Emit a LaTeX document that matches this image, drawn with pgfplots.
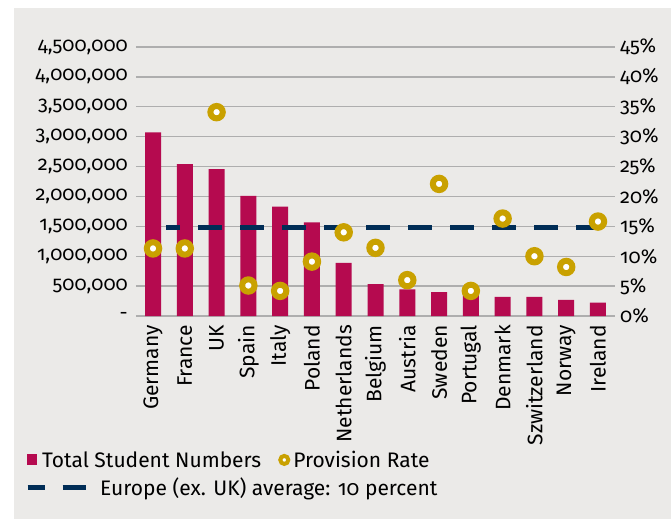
\documentclass[border=0pt]{standalone}
\usepackage{fontspec}
\setmainfont{Fira Sans}[Numbers=OldStyle]
\usepackage{pgfplots}
\pgfplotsset{compat=1.18}
\definecolor{barcol}{HTML}{B50A4F}
\definecolor{gold}{HTML}{C9A100}
\definecolor{navy}{HTML}{002D56}
\definecolor{bg}{HTML}{EBEAE8}
\definecolor{gridc}{HTML}{AEAEAE}
\newcommand\tf{\fontsize{20bp}{24bp}\selectfont}
\newcommand\lf{\fontsize{21bp}{25bp}\selectfont}
\begin{document}
\begin{tikzpicture}
\path[use as bounding box, fill=white] (-136bp,-203bp) rectangle (535bp,316bp);
\fill[bg] (-122bp,-203bp) rectangle (535bp,308bp);
\begin{axis}[
  scale only axis, width=479bp, height=269bp,
  xmin=-0.535, xmax=14.535, ymin=0, ymax=4500000,
  axis line style={draw=none}, tick style={draw=none},
  xtick={0,...,14},
  xticklabels={Germany,France,UK,Spain,Italy,Poland,Netherlands,Belgium,Austria,Sweden,Portugal,Denmark,Szwitzerland,Norway,Ireland},
  xticklabel style={rotate=90, anchor=east, inner sep=0pt, font=\lf},
  xticklabel shift=9bp,
  ytick={0,500000,1000000,1500000,2000000,2500000,3000000,3500000,4000000,4500000},
  yticklabels={{-},{500,000},{1,000,000},{1,500,000},{2,000,000},{2,500,000},{3,000,000},{3,500,000},{4,000,000},{4,500,000}},
  scaled y ticks=false,
  yticklabel style={inner sep=0pt, font=\tf},
  yticklabel shift=8bp,
  ymajorgrids, grid style={gridc, line width=1.3bp},
  legend columns=2,
  legend style={at={(-0.2276,-0.535)}, anchor=west, draw=none, fill=none, inner sep=0pt,
    font=\lf, nodes={inner xsep=2bp, inner ysep=1bp},
    /tikz/every odd column/.append style={column sep=3bp},
    /tikz/every even column/.append style={column sep=17bp}},
  legend cell align=left,
]
\addplot[ybar, bar width=16bp, fill=barcol, draw=none,
  legend image code/.code={\fill[barcol] (0bp,-5.5bp) rectangle (10bp,5.5bp);}]
  coordinates {(0,3070000) (1,2540000) (2,2455000) (3,2010000) (4,1830000) (5,1565000) (6,890000) (7,535000) (8,447000) (9,400000) (10,351000) (11,318000) (12,318000) (13,268000) (14,223000)};
\addlegendentry{Total Student Numbers}
\addlegendimage{only marks, mark=*, mark size=4bp, mark options={fill=white, draw=gold, line width=4bp}}
\addlegendentry{Provision Rate}
\end{axis}
\begin{axis}[
  scale only axis, width=479bp, height=269bp,
  xmin=-0.535, xmax=14.535, ymin=0, ymax=45,
  axis y line*=right, axis x line=none,
  y axis line style={draw=none}, ytick style={draw=none},
  ytick={0,5,...,45},
  yticklabels={0\%,5\%,10\%,15\%,20\%,25\%,30\%,35\%,40\%,45\%},
  yticklabel style={inner sep=0pt, font=\tf},
  yticklabel shift=5bp,
  legend style={at={(-0.2317,-0.636)}, anchor=west, draw=none, fill=none, inner sep=0pt,
    font=\lf, nodes={inner xsep=2bp, inner ysep=1bp},
    /tikz/every odd column/.append style={column sep=10bp}},
  legend cell align=left,
]
\addplot[navy, line width=5bp, dash pattern=on 24bp off 18bp, dash phase=10bp,
  legend image code/.code={\draw[navy, solid, line width=5bp] (0bp,0bp) -- (17bp,0bp); \draw[navy, solid, line width=5bp] (35bp,0bp) -- (58bp,0bp);}]
  coordinates {(0.41,14.8) (14,14.8)};
\addlegendentry{Europe (ex. UK) average: 10 percent}
\addplot[only marks, mark=*, mark size=6.2bp, mark options={fill=white, draw=gold, line width=6bp}, forget plot]
  coordinates {(0,11.3) (1,11.3) (2,34.1) (3,5.1) (4,4.2) (5,9.1) (6,14.0) (7,11.4) (8,6.0) (9,22.1) (10,4.2) (11,16.3) (12,10.0) (13,8.2) (14,15.8)};
\end{axis}
\end{tikzpicture}
\end{document}
